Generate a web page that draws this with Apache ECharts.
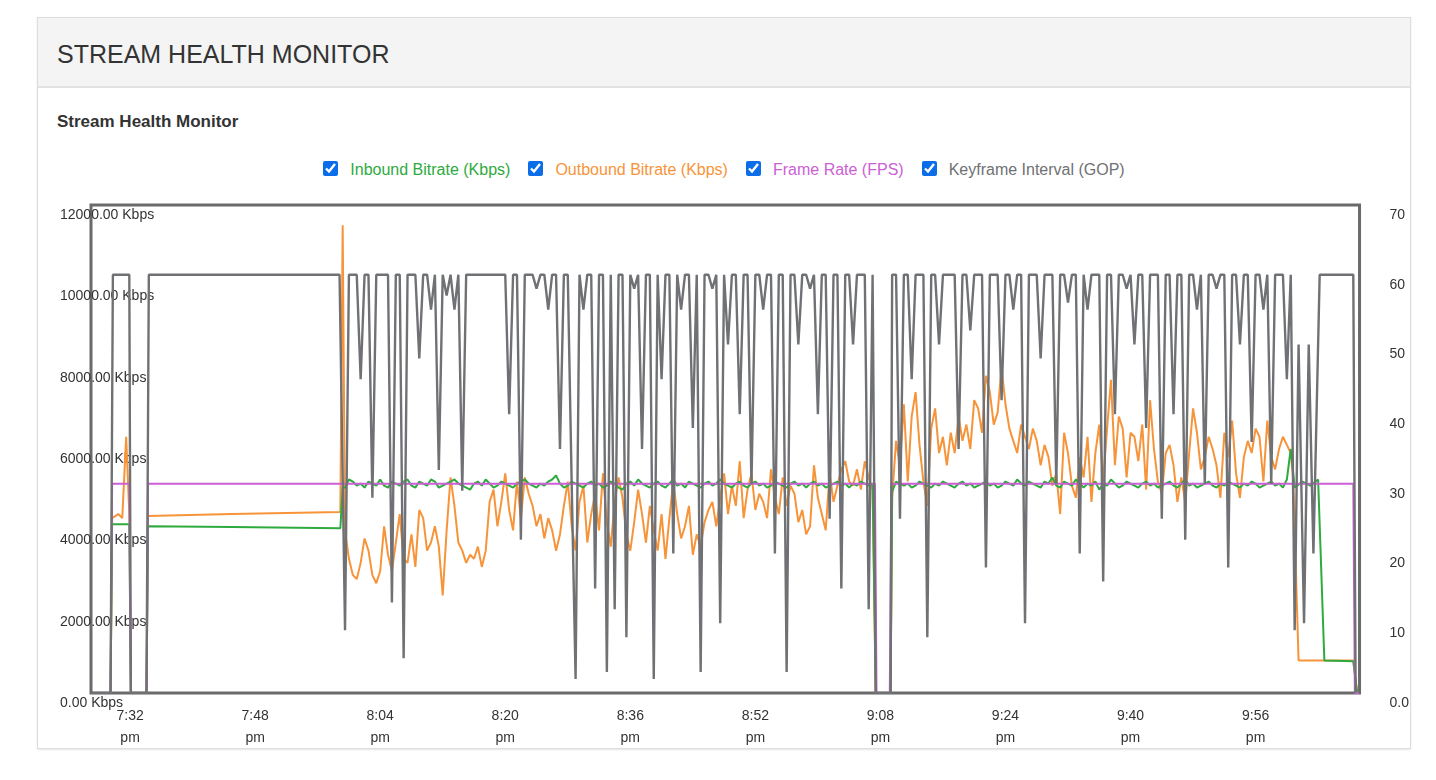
<!DOCTYPE html>
<html><head><meta charset="utf-8">
<script src="https://cdn.jsdelivr.net/npm/echarts@6/dist/echarts.min.js"></script>
<style>
html,body{margin:0;padding:0;background:#fff;font-family:"Helvetica Neue",Helvetica,Arial,"Liberation Sans",sans-serif;}
#panel{position:absolute;left:37px;top:17px;width:1372px;height:730px;border:1px solid #ddd;box-shadow:0 1px 2px rgba(0,0,0,0.1);}
#head{height:68px;background:#f4f4f4;border-bottom:2px solid #e2e2e2;}
#head div{position:absolute;left:19px;top:22px;font-size:25px;color:#333;}
#sub{position:absolute;left:19px;top:94px;font-size:17px;font-weight:bold;color:#333;}
#leg{position:absolute;left:0;width:100%;top:143px;text-align:center;font-size:16px;}
#leg label{margin:0 9px;}
#leg input{width:15px;height:15px;margin:0 12px 0 0;vertical-align:-1px;accent-color:#0b6ee8;}
#chart{position:absolute;left:0;top:173px;width:1374px;height:558px;}
</style></head><body>
<div id="panel">
<div id="head"><div>STREAM HEALTH MONITOR</div></div>
<div id="sub">Stream Health Monitor</div>
<div id="leg"></div>
<div id="chart"></div>
</div>
<script>
const seriesNames=["Inbound Bitrate (Kbps)","Outbound Bitrate (Kbps)","Frame Rate (FPS)","Keyframe Interval (GOP)"];
const seriesColors=["#2eaa3e","#f7943a","#cc5fd6","#6f7174"];
const tickMinutes=[32,48,64,80,96,112,128,144,160,176];
const leftTicks=[0,2000,4000,6000,8000,10000,12000];
const rightTicks=[0,10,20,30,40,50,60,70];
// minutes after 7:00 pm
const segStep=0.5;
const seg1Start=59.5, seg2Start=129.5, gop1Start=59, gop2Start=129.5;

const inHead=[[27,0],[29.5,0],[29.7,4150],[31.9,4150],[32.1,0],[34.1,0],[34.3,4100],[45,4080],[58.9,4050],[59.2,5050]];
const inSeg1=[5050,5250,5200,5100,5150,5050,5200,5150,5100,5250,
5100,5050,5200,5150,5100,5200,5250,5100,5050,5200,
5150,5100,5250,5200,5050,5100,5150,5200,5250,5150,
5100,5050,5000,5150,5200,5100,5250,5150,5050,5100,
5200,5150,5100,5050,5150,5200,5250,5150,5100,5050,
5150,5100,5200,5250,5350,5150,5050,5100,5200,5150,
5100,5050,5150,5200,5100,5150,5050,5100,5200,5150,
5050,5000,5150,5200,5100,5250,5150,5100,5050,5150,
5200,5100,5050,5150,5250,5100,5150,5050,5200,5150,
5100,5050,5150,5200,5100,5150,5250,5150,5100,5050,
5150,5200,5100,5050,5150,5200,5100,5150,5050,5100,
5200,5150,5100,5050,5150,5200,5100,5150,5050,5150,
5200,5100,5150,5050,5100,5150,5200,5100,5150,5050,
5150,5100,5200,5150,5100,5150];
const inGap=[[127.4,0],[129.3,0]];
const inSeg2=[4950,5200,5150,5100,5150,5050,5100,5200,5150,5100,
5050,5150,5100,5200,5150,5100,5050,5150,5200,5100,
5150,5050,5100,5150,5200,5100,5150,5050,5100,5200,
5150,5100,5250,5150,5100,5200,5150,5100,5050,5200,
5150,5300,5100,5050,5200,5150,5100,5250,5150,5050,
5150,5100,5200,5000,5150,5100,5250,5150,5050,5100,
5200,5150,5100,5050,5150,5200,5100,5150,5050,5100,
5150,5200,5100,5050,5150,5250,5100,5150,5050,5100,
5150,5200,5100,5050,5150,5100,5200,5150,5100,5050,
5150,5100,5200,5150,5050,5100,5150,5200,5100,5150,
5050,5250,6000];
const inTail=[[181,5050],[182,5200],[183,5100],[184,5250],[184.8,800],[188.5,780],[189,0]];

const outHead=[[27,0],[29.5,0],[29.7,4300],[30.5,4400],[31,4300],[31.5,6300],[31.9,4400],[32.1,0],[34.1,0],[34.3,4350],[45,4400],[58.9,4450],[59.2,11500]];
const outSeg1=[4000,3300,2900,2800,3200,3800,3500,2900,2700,3000,4100,3400,3000,3700,4400,3300,3200,3900,3100,4500,4300,3500,3700,4100,3600,2400,4000,5300,4600,3700,3500,
3200,3400,3300,3600,3100,3500,4700,5000,4100,4700,5400,4500,4000,5200,4300,5300,4900,4600,4100,4400,3800,4300,4000,3500,3900,4600,5200,4100,3500,4700,5100,3700,4400,4900,4000,5400,4200,3600,4700,5300,
4800,3900,3500,4200,5000,4400,3700,4600,4000,3500,4400,3300,4300,5200,4400,3800,4100,4600,3400,3900,3600,4200,4500,4700,4100,4800,5400,4400,5100,4600,5700,4300,5000,5400,4500,4900,4700,4300,5500,4800,4400,5300,4600,5100,4900,4200,4500,3900,4100,5600,4800,4400,4000,5400,4700,5100,5500,5700,5200,5100,5500,5000,5700,5300,5000];
const outGap=[[127.4,0],[129.3,0]];
const outSeg2=[4800,6200,5600,7100,5200,6800,7400,6100,5200,4600,
6500,7000,5900,6300,5600,6400,5900,6800,6200,6600,
6000,7200,7000,6400,7800,7400,6600,6900,8000,7100,
6500,6200,5900,6600,6300,6000,6500,6200,5600,6100,
5800,5100,5400,4400,6400,5900,5100,4800,5800,5300,
6300,4700,5900,6600,5200,6500,7700,5600,6800,6500,
5300,6400,6300,5700,6600,5000,7200,6000,5200,4900,
5900,6100,5600,4700,5300,4700,5900,7000,6400,5500,
5800,6300,6000,5600,4800,6400,5800,6700,5400,4800,
5800,6200,5900,6500,6300,5200,6700,5800,5500,6000,
6300,6100,5900];
const outTail=[[180.8,5300],[181.5,800],[188.5,800],[189,0]];

const fpsPoints=[[27,0],[29.5,0],[29.7,30],[31.9,30],[32.1,0],[34.1,0],[34.3,30],[127.3,30],[127.5,0],[129.2,0],[129.4,30],[188.5,30],[188.7,0],[189.2,0]];

const gopHead=[[27,0],[29.5,0],[29.8,60],[31.9,60],[32.1,0],[34.1,0],[34.4,60],[58.8,60]];
const gopSeg1=[60,9,60,60,60,45,60,60,28,60,
60,60,60,13,60,60,5,60,60,60,
48,60,60,55,60,32,60,57,60,55,
60,29,60,60,60,60,60,60,60,60,
60,60,60,40,60,60,22,60,60,60,
58,60,60,55,60,60,35,60,60,30,
2,60,55,60,60,15,60,60,3,60,
12,60,60,8,60,58,60,35,60,60,
2,60,45,60,60,20,60,55,60,60,
38,60,3,60,60,58,60,10,60,50,
60,60,40,60,60,30,60,60,55,60,
60,20,60,60,3,60,60,50,60,60,
58,60,40,60,60,25,60,60,15,60,
60,50,60,60,60,12,60];
const gopGap=[[127.4,0],[129.3,0]];
const gopSeg2=[60,60,25,60,60,45,60,60,60,8,
60,60,50,60,60,60,60,35,60,60,
52,60,60,60,18,60,60,60,42,60,
60,55,60,60,10,60,60,60,48,60,
60,60,30,60,60,56,60,60,20,60,
55,60,60,60,16,60,60,40,60,60,
58,60,50,60,60,38,60,60,60,25,
60,60,40,60,60,22,60,60,55,60,
30,60,60,58,60,60,18,60,60,50,
60,60,36,60,60,55,60,30,60,60,
60,45,60,9];
const gopTail=[[181.5,50],[182.2,10],[182.8,50],[183.4,20],[184.2,60],[188.5,60],[188.8,0]];

function seg(arr,start){return arr.map((v,i)=>[start+i*segStep,v]);}
const inData=[...inHead,...seg(inSeg1,seg1Start),...inGap,...seg(inSeg2,seg2Start),...inTail];
const outData=[...outHead,...seg(outSeg1,seg1Start),...outGap,...seg(outSeg2,seg2Start),...outTail];
const gopData=[...gopHead,...seg(gopSeg1,gop1Start),...gopGap,...seg(gopSeg2,gop2Start),...gopTail];

document.getElementById('leg').innerHTML=seriesNames.map((n,i)=>`<label style="color:${seriesColors[i]}"><input type="checkbox" checked>${n}</label>`).join('');

function fmtTime(m){let h=7+Math.floor(m/60),mm=Math.round(m%60);return h+':'+(mm<10?'0':'')+mm+'\npm';}
const FF='Helvetica, Arial, Liberation Sans, sans-serif';
const chart=echarts.init(document.getElementById('chart'));
chart.setOption({
 animation:false,
 grid:{left:53,right:17,top:14,bottom:36,show:true,borderColor:'#6a6a6a',borderWidth:3},
 xAxis:{type:'value',min:27,max:189.3,splitLine:{show:false},axisLine:{show:false},axisTick:{show:false},
  axisLabel:{customValues:tickMinutes,formatter:fmtTime,color:'#333',fontSize:14,lineHeight:22,margin:12,fontFamily:FF}},
 yAxis:[
  {type:'value',min:0,max:12000,interval:2000,splitLine:{show:false},axisLine:{show:false},axisTick:{show:false},
   axisLabel:{formatter:v=>v.toFixed(2)+' Kbps',align:'left',margin:31,verticalAlign:'top',padding:[3,0,0,0],color:'#333',fontSize:14,fontFamily:FF}},
  {type:'value',min:0,max:70,interval:10,position:'right',splitLine:{show:false},axisLine:{show:false},axisTick:{show:false},
   axisLabel:{formatter:v=>v===0?'0.0':String(v),align:'left',margin:30,verticalAlign:'top',padding:[3,0,0,0],color:'#333',fontSize:14,fontFamily:FF}}
 ],
 series:[
  {name:seriesNames[1],type:'line',data:outData,showSymbol:false,lineStyle:{color:seriesColors[1],width:2},itemStyle:{color:seriesColors[1]},z:2},
  {name:seriesNames[0],type:'line',data:inData,showSymbol:false,lineStyle:{color:seriesColors[0],width:2},itemStyle:{color:seriesColors[0]},z:3},
  {name:seriesNames[2],type:'line',yAxisIndex:1,data:fpsPoints,showSymbol:false,lineStyle:{color:seriesColors[2],width:2},itemStyle:{color:seriesColors[2]},z:4},
  {name:seriesNames[3],type:'line',yAxisIndex:1,data:gopData,showSymbol:false,lineStyle:{color:seriesColors[3],width:2.4},itemStyle:{color:seriesColors[3]},z:5}
 ]
});
</script></body></html>
